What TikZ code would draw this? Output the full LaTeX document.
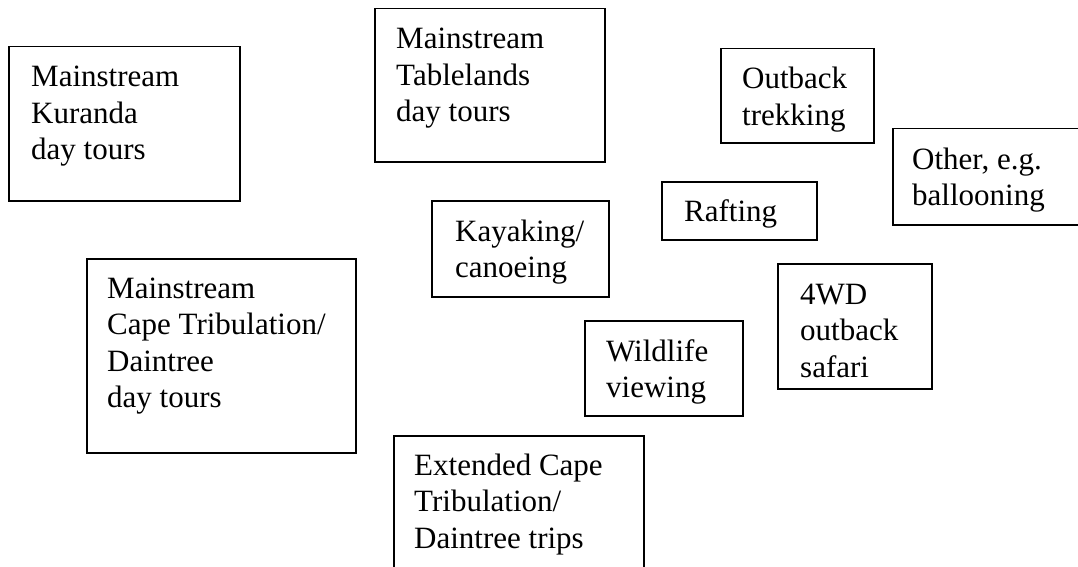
\documentclass[tikz,border=0pt]{standalone}
\usepackage{fontspec}
\setmainfont{Liberation Serif}
\begin{document}
\begin{tikzpicture}[x=1pt,y=-1pt,
  boxline/.style={draw=black,line width=1.5pt,inner sep=0pt,anchor=north west},
  lbl/.style={anchor=base west,inner sep=0pt,font=\fontsize{31}{36.5}\selectfont}]
\useasboundingbox (0,0) rectangle (1078,567);
\newcommand{\blines}[1]{\begin{tabular}[t]{@{}l@{}}#1\end{tabular}}
\node[boxline,minimum width=231pt,minimum height=154pt] (b1) at (8,46) {};
\node[lbl] (t1) at (31,87) {\blines{Mainstream\\Kuranda\\day tours}};
\node[boxline,minimum width=230pt,minimum height=153pt] (b2) at (374,8) {};
\node[lbl] (t2) at (396,49) {\blines{Mainstream\\Tablelands\\day tours}};
\node[boxline,minimum width=153pt,minimum height=94pt] (b3) at (720,48) {};
\node[lbl] (t3) at (742,89) {\blines{Outback\\trekking}};
\node[boxline,minimum width=186pt,minimum height=96pt] (b4) at (892,128) {};
\node[lbl] (t4) at (912,169) {\blines{Other, e.g.\\ballooning}};
\node[boxline,minimum width=155pt,minimum height=58pt] (b5) at (661,181) {};
\node[lbl] (t5) at (684,221) {\blines{Rafting}};
\node[boxline,minimum width=177pt,minimum height=96pt] (b6) at (431,200) {};
\node[lbl] (t6) at (455,241) {\blines{Kayaking/\\canoeing}};
\node[boxline,minimum width=154pt,minimum height=125pt] (b7) at (777,263) {};
\node[lbl] (t7) at (800,304) {\blines{4WD\\outback\\safari}};
\node[boxline,minimum width=269pt,minimum height=194pt] (b8) at (86,258) {};
\node[lbl] (t8) at (107,298) {\blines{Mainstream\\Cape Tribulation/\\Daintree\\day tours}};
\node[boxline,minimum width=158pt,minimum height=95pt] (b9) at (584,320) {};
\node[lbl] (t9) at (606,361) {\blines{Wildlife\\viewing}};
\node[boxline,minimum width=250pt,minimum height=160pt] (b10) at (393,435) {};
\node[lbl] (t10) at (414,475) {\blines{Extended Cape\\Tribulation/\\Daintree trips}};
\end{tikzpicture}
\end{document}
